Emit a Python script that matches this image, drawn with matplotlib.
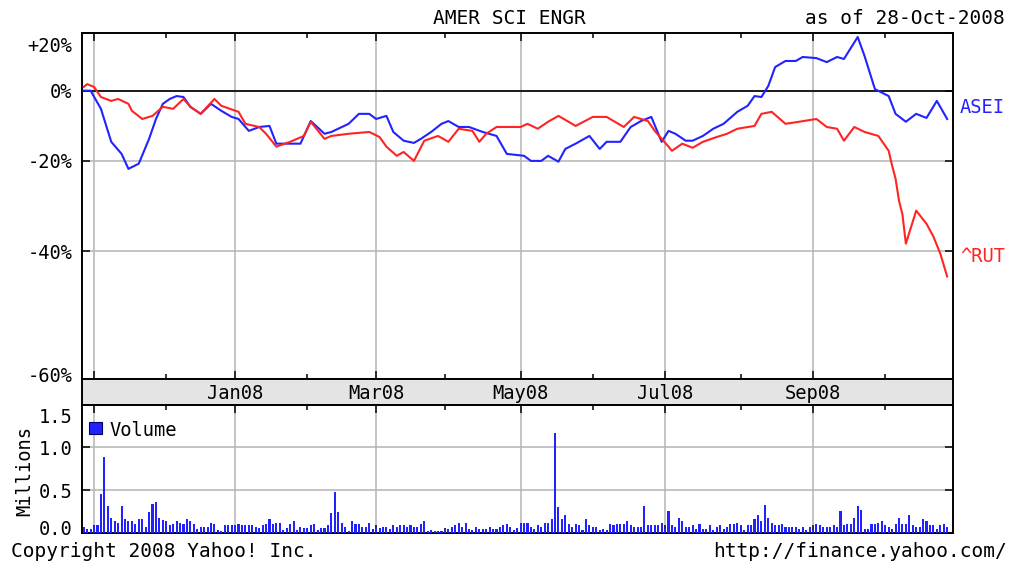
#!/usr/bin/env python3
"""
AMER SCI ENGR (ASEI) vs ^RUT  ——  Yahoo! Finance one-year comparison chart
as of 28-Oct-2008, with daily volume panel underneath.
"""

import matplotlib

matplotlib.use("Agg")
import matplotlib.pyplot as plt
from matplotlib.patches import Rectangle
from matplotlib.ticker import NullLocator
import numpy as np
import pandas as pd

plt.rcParams["font.family"] = "DejaVu Sans Mono"

# ---------- data ---------- #
# NYSE holidays inside the window (x axis runs on trading days)
HOLIDAYS = ["2007-11-22", "2007-12-25", "2008-01-01", "2008-01-21", "2008-02-18",
            "2008-03-21", "2008-05-26", "2008-07-04", "2008-09-01"]

ASEI_DATES = [
    "2007-10-29", "2007-10-31", "2007-11-05", "2007-11-08", "2007-11-13", "2007-11-15",
    "2007-11-20", "2007-11-26", "2007-11-28", "2007-11-30", "2007-12-04", "2007-12-06",
    "2007-12-10", "2007-12-12", "2007-12-17", "2007-12-20", "2007-12-26", "2007-12-31",
    "2008-01-03", "2008-01-08", "2008-01-11", "2008-01-16", "2008-01-18", "2008-01-30",
    "2008-02-04", "2008-02-08", "2008-02-12", "2008-02-20", "2008-02-25", "2008-02-28",
    "2008-03-03", "2008-03-06", "2008-03-10", "2008-03-13", "2008-03-18", "2008-03-20",
    "2008-03-26", "2008-03-31", "2008-04-02", "2008-04-07", "2008-04-10", "2008-04-16",
    "2008-04-22", "2008-04-25", "2008-05-02", "2008-05-06", "2008-05-09", "2008-05-13",
    "2008-05-16", "2008-05-20", "2008-05-23", "2008-05-30", "2008-06-04", "2008-06-06",
    "2008-06-12", "2008-06-17", "2008-06-20", "2008-06-25", "2008-06-30", "2008-07-02",
    "2008-07-07", "2008-07-10", "2008-07-14", "2008-07-17", "2008-07-22", "2008-07-25",
    "2008-07-31", "2008-08-05", "2008-08-07", "2008-08-11", "2008-08-13", "2008-08-15",
    "2008-08-20", "2008-08-25", "2008-08-27", "2008-09-03", "2008-09-08", "2008-09-11",
    "2008-09-15", "2008-09-19", "2008-09-23", "2008-09-26", "2008-10-02", "2008-10-06",
    "2008-10-09", "2008-10-14", "2008-10-17", "2008-10-22", "2008-10-27",
]
ASEI_PCT = [
    0.0, 0.0, -5.6, -15.0, -18.2, -22.0, -20.7, -14.2, -8.6, -4.1,
    -2.6, -1.7, -2.0, -5.0, -7.1, -4.1, -6.2, -8.0, -8.6, -12.0,
    -10.9, -10.6, -15.5, -15.5, -9.2, -12.8, -12.3, -10.0, -7.1, -7.1,
    -8.6, -7.7, -12.3, -14.7, -15.3, -14.2, -12.3, -10.0, -9.2, -10.9,
    -10.9, -12.3, -13.4, -18.2, -18.7, -20.0, -20.0, -18.7, -20.2, -16.9,
    -15.5, -13.4, -16.9, -15.0, -15.0, -10.9, -9.2, -8.0, -15.0, -12.0,
    -12.8, -14.7, -14.7, -13.4, -11.4, -10.0, -6.5, -4.7, -1.7, -2.0,
    1.5, 7.8, 9.9, 9.9, 11.3, 10.9, 9.5, 11.3, 10.6, 18.6,
    11.6, 0.5, -1.7, -7.1, -9.4, -7.1, -8.3, -3.2, -8.6,
]

RUT_DATES = [
    "2007-10-29", "2007-10-30", "2007-11-01", "2007-11-05", "2007-11-08", "2007-11-12",
    "2007-11-15", "2007-11-16", "2007-11-21", "2007-11-27", "2007-11-30", "2007-12-05",
    "2007-12-10", "2007-12-12", "2007-12-17", "2007-12-21", "2007-12-26", "2008-01-03",
    "2008-01-07", "2008-01-11", "2008-01-15", "2008-01-18", "2008-01-25", "2008-01-31",
    "2008-02-04", "2008-02-08", "2008-02-12", "2008-02-20", "2008-02-28", "2008-03-04",
    "2008-03-06", "2008-03-11", "2008-03-13", "2008-03-18", "2008-03-24", "2008-03-28",
    "2008-04-02", "2008-04-07", "2008-04-11", "2008-04-15", "2008-04-17", "2008-04-22",
    "2008-05-01", "2008-05-05", "2008-05-08", "2008-05-13", "2008-05-16", "2008-05-23",
    "2008-06-02", "2008-06-06", "2008-06-13", "2008-06-18", "2008-06-24", "2008-06-26",
    "2008-07-02", "2008-07-03", "2008-07-09", "2008-07-14", "2008-07-17", "2008-07-23",
    "2008-07-28", "2008-07-31", "2008-08-07", "2008-08-11", "2008-08-14", "2008-08-20",
    "2008-08-26", "2008-09-03", "2008-09-08", "2008-09-11", "2008-09-15", "2008-09-18",
    "2008-09-23", "2008-09-29", "2008-10-02", "2008-10-03", "2008-10-06", "2008-10-07",
    "2008-10-08", "2008-10-09", "2008-10-14", "2008-10-17", "2008-10-21", "2008-10-23",
    "2008-10-27",
]
RUT_PCT = [
    1.2, 2.1, 1.2, -2.0, -3.2, -2.6, -4.1, -6.2, -8.6, -7.7,
    -5.0, -5.6, -2.6, -5.0, -7.1, -2.6, -4.7, -6.5, -10.0, -10.9,
    -12.8, -16.3, -15.0, -13.4, -9.4, -14.2, -13.4, -12.8, -12.3, -13.7,
    -16.3, -18.7, -17.7, -20.0, -14.7, -13.4, -15.0, -11.4, -12.0, -15.0,
    -12.8, -10.9, -10.9, -10.0, -11.4, -9.4, -7.7, -10.6, -8.0, -8.0,
    -10.9, -8.0, -9.2, -12.0, -16.3, -17.4, -15.5, -16.6, -15.0, -13.7,
    -12.8, -11.4, -10.6, -7.1, -6.5, -10.0, -9.4, -8.6, -10.9, -11.4,
    -14.7, -10.9, -12.3, -13.4, -17.4, -21.2, -24.4, -29.5, -32.5, -38.5,
    -31.7, -34.5, -37.1, -40.4, -44.6,
]

# daily volume, millions of shares, one value per trading day
VOLUME_M = [
    0.07, 0.05, 0.05, 0.08, 0.09, 0.46, 0.89, 0.32, 0.18, 0.14,
    0.12, 0.32, 0.16, 0.14, 0.14, 0.11, 0.16, 0.16, 0.07, 0.25,
    0.34, 0.36, 0.18, 0.15, 0.14, 0.09, 0.11, 0.14, 0.12, 0.10,
    0.16, 0.14, 0.11, 0.05, 0.07, 0.07, 0.07, 0.12, 0.10, 0.04,
    0.02, 0.09, 0.09, 0.09, 0.09, 0.11, 0.09, 0.09, 0.09, 0.09,
    0.07, 0.06, 0.09, 0.11, 0.16, 0.11, 0.12, 0.12, 0.04, 0.06,
    0.10, 0.14, 0.03, 0.07, 0.06, 0.06, 0.09, 0.10, 0.04, 0.06,
    0.06, 0.09, 0.23, 0.48, 0.24, 0.12, 0.07, 0.02, 0.14, 0.10,
    0.10, 0.07, 0.07, 0.12, 0.05, 0.07, 0.06, 0.07, 0.07, 0.05,
    0.09, 0.07, 0.09, 0.09, 0.07, 0.09, 0.07, 0.07, 0.11, 0.14,
    0.02, 0.04, 0.02, 0.02, 0.02, 0.05, 0.05, 0.07, 0.09, 0.12,
    0.07, 0.12, 0.05, 0.04, 0.07, 0.05, 0.05, 0.05, 0.07, 0.05,
    0.05, 0.07, 0.09, 0.10, 0.07, 0.04, 0.06, 0.12, 0.12, 0.12,
    0.07, 0.05, 0.09, 0.07, 0.12, 0.12, 0.16, 1.17, 0.30, 0.16,
    0.21, 0.11, 0.07, 0.11, 0.09, 0.03, 0.16, 0.09, 0.07, 0.07,
    0.04, 0.05, 0.04, 0.11, 0.09, 0.11, 0.10, 0.10, 0.14, 0.09,
    0.07, 0.07, 0.07, 0.32, 0.09, 0.09, 0.09, 0.09, 0.12, 0.05,
    0.26, 0.09, 0.07, 0.18, 0.14, 0.07, 0.07, 0.09, 0.05, 0.11,
    0.05, 0.05, 0.09, 0.04, 0.07, 0.09, 0.05, 0.07, 0.11, 0.10,
    0.12, 0.09, 0.04, 0.09, 0.09, 0.16, 0.21, 0.14, 0.33, 0.18,
    0.12, 0.09, 0.09, 0.11, 0.07, 0.07, 0.07, 0.07, 0.05, 0.07,
    0.04, 0.07, 0.03, 0.11, 0.09, 0.07, 0.07, 0.07, 0.09, 0.07,
    0.26, 0.09, 0.11, 0.11, 0.18, 0.32, 0.27, 0.05, 0.05, 0.11,
    0.11, 0.12, 0.14, 0.09, 0.07, 0.05, 0.11, 0.18, 0.11, 0.11,
    0.21, 0.09, 0.07, 0.07, 0.16, 0.14, 0.09, 0.09, 0.05, 0.09,
    0.11, 0.07,
]

PCT_TICKS = [20, 0, -20, -40, -60]
VOL_TICKS = [0.0, 0.5, 1.0, 1.5]

# ---------- style ---------- #
BLUE = "#2222ff"
RED = "#ff2424"
GRID = "#b4b4b4"
BAND = "#e4e4e4"
W, H = 1011, 565
LABEL_PAD = 6.7  # pt, gap between spine and y tick labels


def box(x0, y0, x1, y1):
    """pixel box (top-left origin) -> figure fraction rect"""
    return [x0 / W, 1 - y1 / H, (x1 - x0) / W, (y1 - y0) / H]


def edge_label(a, y, text, dy_px):
    """Yahoo pulls the first/last y label inside the plot box"""
    a.annotate(text, xy=(0, y), xycoords=("axes fraction", "data"),
               xytext=(-LABEL_PAD, dy_px * 0.72), textcoords="offset points",
               ha="right", va="center_baseline", fontsize=13.5, annotation_clip=False)


days = pd.bdate_range("2007-10-29", "2008-10-27")
days = days[~days.isin(pd.to_datetime(HOLIDAYS))]
x = np.arange(len(days))


def to_x(dates):
    return days.searchsorted(pd.to_datetime(dates))


starts = [i for i in range(1, len(days)) if days[i].month != days[i - 1].month]
major = [i for i in starts if days[i].month % 2 == 1]
minor = [i for i in starts if days[i].month % 2 == 0]

fig = plt.figure(figsize=(W / 100, H / 100), dpi=100)
ax = fig.add_axes(box(82, 33.3, 953, 379))
band = fig.add_axes(box(82, 379, 953, 404.6))
axv = fig.add_axes(box(82, 404.6, 953, 533))

# ── price panel ──────────────────────────
ax.set_yscale("log")
ax.plot(to_x(ASEI_DATES), 1 + np.array(ASEI_PCT) / 100, color=BLUE, lw=1.5, zorder=3)
ax.plot(to_x(RUT_DATES), 1 + np.array(RUT_PCT) / 100, color=RED, lw=1.5, zorder=4)
ax.axhline(1.0, color="black", lw=1.2, zorder=2)
ax.set_ylim(0.4, 1.2)
pct_pos = [1 + p / 100 for p in PCT_TICKS]
pct_txt = [f"+{p}%" if p > 0 else f"{p}%" for p in PCT_TICKS]
ax.set_yticks(pct_pos, labels=[""] + pct_txt[1:-1] + [""])
ax.yaxis.set_minor_locator(NullLocator())
edge_label(ax, pct_pos[0], pct_txt[0], -11.5)
edge_label(ax, pct_pos[-1], pct_txt[-1], 4.5)

# ── volume panel ──────────────────────────
axv.bar(x, VOLUME_M, width=0.6, color=BLUE, linewidth=0, zorder=3)
axv.set_ylim(0, 1.5)
vol_txt = [f"{v:.1f}" for v in VOL_TICKS]
axv.set_yticks(VOL_TICKS, labels=[""] + vol_txt[1:-1] + [""])
edge_label(axv, VOL_TICKS[0], vol_txt[0], 5.5)
edge_label(axv, VOL_TICKS[-1], vol_txt[-1], -10.5)

axv.add_patch(Rectangle((0.008, 0.772), 0.015, 0.092, transform=axv.transAxes,
                        facecolor=BLUE, edgecolor="#000066", lw=0.8, zorder=5))
axv.text(0.031, 0.795, "Volume", transform=axv.transAxes, ha="left", va="center",
         fontsize=13.5, zorder=5)

for a in (ax, axv):
    a.set_xlim(-0.5, 252.7)
    a.set_xticks(major)
    a.set_xticks(minor, minor=True)
    a.set_axisbelow(True)
    a.grid(axis="y", color=GRID, lw=1.1)
    a.grid(axis="x", which="major", color=GRID, lw=1.1)
    a.tick_params(axis="x", which="both", direction="in", top=True, bottom=True,
                  labelbottom=False, width=1.1, color="black")
    a.tick_params(axis="x", which="major", length=6)
    a.tick_params(axis="x", which="minor", length=3.6)
    a.tick_params(axis="y", direction="in", left=True, right=True, length=6,
                  width=1.1, pad=LABEL_PAD, labelsize=13.5)
    for s in a.spines.values():
        s.set_linewidth(1.4)

# ── month band ──────────────────────────
band.set_xlim(-0.5, 252.7)
band.set_facecolor(BAND)
band.set_xticks([])
band.set_yticks([])
for s in band.spines.values():
    s.set_linewidth(1.4)
for i in major:
    if i > 10:
        band.text(i, 0.45, days[i].strftime("%b%y"), transform=band.get_xaxis_transform(),
                  ha="center", va="center", fontsize=13.5)

# ── texts ──────────────────────────
fig.text(509 / W, 1 - 24.5 / H, "AMER SCI ENGR", ha="center", va="baseline", fontsize=14)
fig.text(1005 / W, 1 - 24.5 / H, "as of 28-Oct-2008", ha="right", va="baseline", fontsize=14)
fig.text(960 / W, 1 - 113.3 / H, "ASEI", color=BLUE, ha="left", va="baseline", fontsize=13.5)
fig.text(960 / W, 1 - 261.5 / H, "^RUT", color=RED, ha="left", va="baseline", fontsize=13.5)
fig.text(25 / W, 1 - 471.5 / H, "Millions", rotation=90, ha="center", va="center",
         fontsize=13.5)
fig.text(11 / W, 1 - 557 / H, "Copyright 2008 Yahoo! Inc.", ha="left", va="baseline",
         fontsize=14)
fig.text(1007 / W, 1 - 557 / H, "http://finance.yahoo.com/", ha="right", va="baseline",
         fontsize=14)

fig.savefig("out.png", dpi=100, facecolor="white")
